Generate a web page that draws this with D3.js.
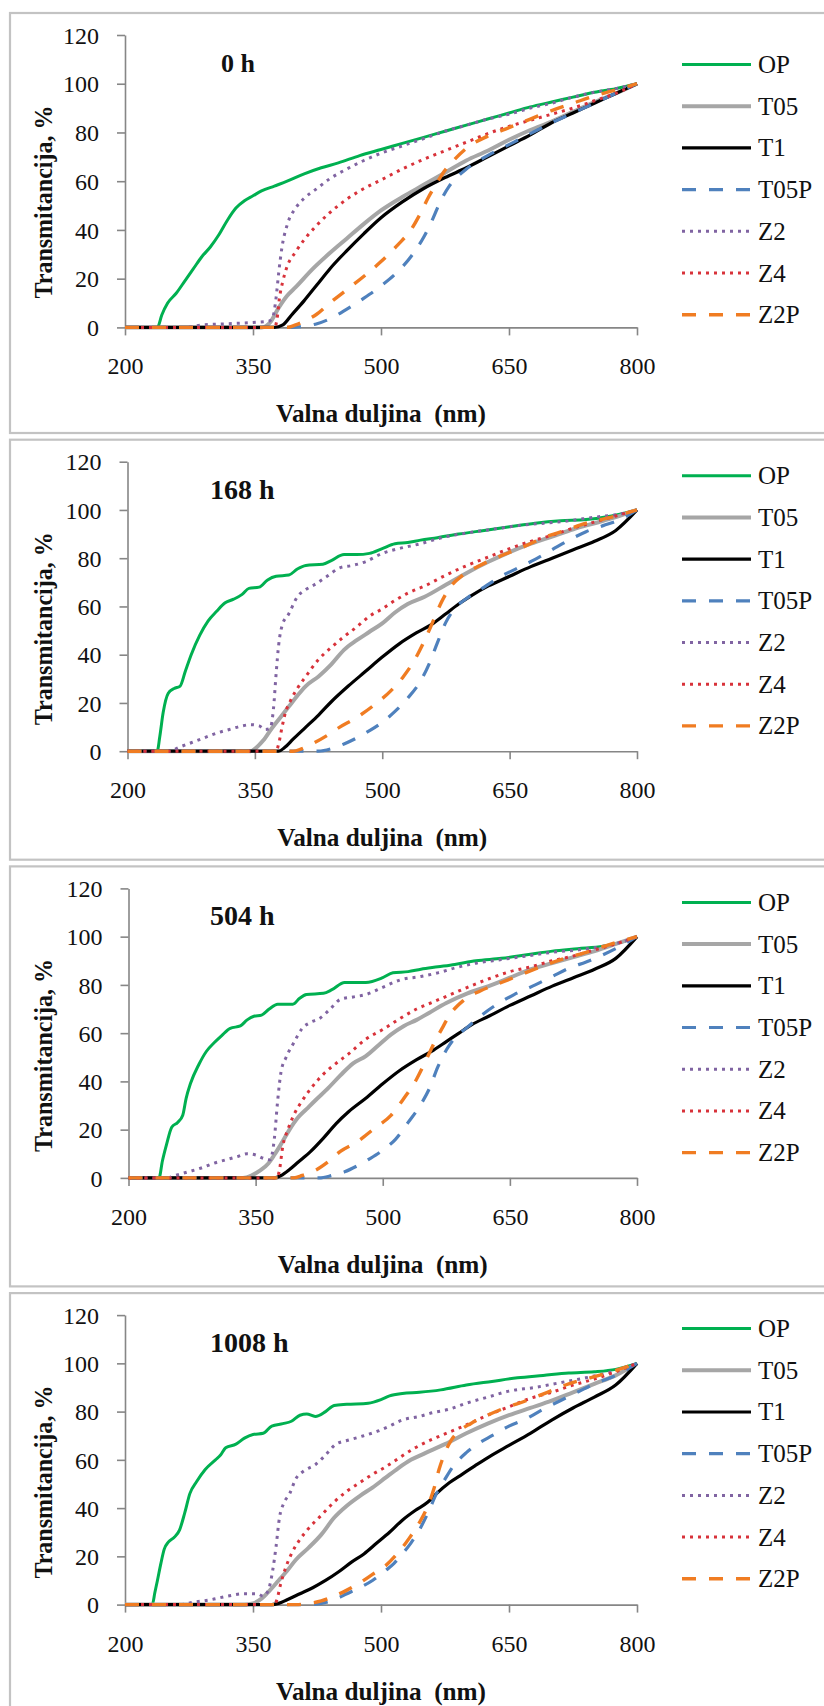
<!DOCTYPE html>
<html><head><meta charset="utf-8">
<script src="https://cdn.jsdelivr.net/npm/d3@7"></script>
<style>
body{margin:0;background:#fff}
svg{display:block}
text{font-family:"Liberation Serif","Times New Roman",serif;fill:#111}
</style>
</head><body>
<svg id="c" width="824" height="1706" font-family='"Liberation Serif","Times New Roman",serif'></svg>
<script>
// ---------- categories / ticks ----------
const seriesNames = ["OP","T05","T1","T05P","Z2","Z4","Z2P"];
const panelLabels = ["0 h","168 h","504 h","1008 h"];
const xTicks = [200,350,500,650,800];
const yTicks = [0,20,40,60,80,100,120];
const xTitle = "Valna duljina  (nm)";
const yTitle = "Transmitancija, %";

// ---------- 0 h ----------
const OP_0h = [[200,0],[238,0],[243,5],[250,10],[260,14],[270,19],[280,24],[290,29],[300,33],[310,38],[320,44],[330,49],[340,52],[350,54],[360,56],[375,58],[390,60],[410,63],[430,65.5],[450,67.5],[475,70.5],[500,73],[525,75.5],[550,78],[575,80.5],[600,83],[625,85.5],[650,88],[675,90.5],[700,92.5],[725,94.5],[750,96.5],[775,98],[800,100]];
const T05_0h = [[200,0],[360,0],[370,2],[380,8],[390,13],[400,16.5],[420,24],[440,30.5],[460,36.5],[480,42.5],[500,48],[525,53.5],[550,58.5],[575,63.5],[600,68.5],[625,72.5],[650,77],[675,81],[700,84.5],[725,88.5],[750,92.5],[775,96],[800,100]];
const T1_0h = [[200,0],[375,0],[385,1],[395,5],[410,11],[425,17.5],[440,24],[460,31.5],[480,38.5],[500,45],[525,51.5],[550,57],[575,61.5],[600,65.5],[625,70],[650,74.5],[675,79],[700,84],[725,88],[750,92],[775,96],[800,100]];
const T05P_0h = [[200,0],[395,0],[410,0.5],[425,1.5],[440,3.5],[460,7.5],[480,12],[500,17],[520,23],[535,29],[550,37],[560,44],[570,52],[580,58],[590,62],[600,65],[625,70.5],[650,75],[675,79.5],[700,84],[725,88],[750,92],[775,96],[800,100]];
const Z2_0h = [[200,0],[270,0],[290,1],[320,1.5],[350,2],[368,2.5],[373,4],[377,12],[380,22],[384,33],[390,42],[400,49],[410,53],[425,57],[440,61],[460,65],[480,68.5],[500,71.5],[525,74.5],[550,77.5],[575,80.5],[600,83],[625,85.5],[650,87.5],[675,90],[700,92],[725,94.5],[750,96.5],[775,98],[800,100]];
const Z4_0h = [[200,0],[375,0],[378,3],[381,12],[385,19],[390,25],[400,31],[410,36],[425,42],[450,50],[475,56],[500,60.5],[525,65],[550,69],[575,72.5],[600,76],[625,79.5],[650,82.5],[675,85],[700,87.5],[725,90],[750,93],[775,96],[800,100]];
const Z2P_0h = [[200,0],[390,0],[400,1],[410,2.5],[425,5.5],[440,10],[460,15.5],[480,21],[500,27],[520,34],[535,40],[545,46],[555,53],[565,59],[575,64.5],[585,68.5],[600,73.5],[625,78.5],[650,82],[675,85.5],[700,89],[725,92],[750,95],[775,97.5],[800,100]];

// ---------- 168 h ----------
const OP_168h = [[200,0],[235,0],[238,6],[242,16],[248,24],[255,26],[262,27],[268,33],[275,40],[285,48],[295,54],[305,58],[315,61.5],[325,63],[335,65],[343,67.5],[355,68],[365,71],[375,72.5],[390,73],[400,75.5],[410,77],[430,77.5],[440,79],[455,81.5],[470,81.5],[485,82],[500,84],[515,86],[530,86.5],[545,87.5],[565,88.5],[590,90],[620,91.5],[650,93],[680,94.5],[710,95.5],[740,96],[770,97.5],[800,100]];
const T05_168h = [[200,0],[345,0],[350,1],[360,4.5],[370,9.5],[380,14],[390,18.5],[400,23],[410,27],[425,31],[440,36],[455,42],[470,46],[485,49.5],[500,53],[515,57.5],[530,61],[550,64],[575,69],[600,74],[625,78.5],[650,82.5],[675,86],[700,89],[725,92],[750,94.5],[775,97],[800,100]];
const T1_168h = [[200,0],[378,0],[385,1.5],[395,5],[410,10],[425,15],[440,20.5],[460,27],[480,33],[500,39],[520,44.5],[540,49],[560,53],[575,57],[590,61],[605,64.5],[625,68.5],[650,72.5],[675,76.5],[700,80],[725,83.5],[750,87],[775,91.5],[800,100]];
const T05P_168h = [[200,0],[425,0],[440,1],[455,3],[470,5.5],[485,8.5],[500,12],[515,16.5],[530,22],[545,29],[555,36],[565,45],[575,53.5],[585,59],[600,63.5],[620,68],[640,72.5],[660,76],[680,79.5],[700,83.5],[720,87.5],[740,91],[760,93.5],[780,96],[800,100]];
const Z2_168h = [[200,0],[250,0],[260,1.5],[275,3.5],[290,5.5],[305,7.5],[320,9],[335,10.5],[345,11],[355,10.5],[362,9],[368,9.5],[372,18],[375,32],[378,44],[382,52],[390,57],[400,64],[410,67],[420,69],[435,72.5],[450,76],[465,77],[480,78.5],[500,82],[520,84],[545,86],[570,88.5],[600,90.5],[630,92],[660,93.5],[690,94.5],[720,95.5],[750,97],[775,98],[800,100]];
const Z4_168h = [[200,0],[375,0],[378,3],[382,10],[386,16],[392,21],[400,26],[410,31],[425,38],[440,43],[455,47.5],[470,51.5],[485,56],[500,59],[515,62.5],[530,65.5],[550,68.5],[575,73],[600,77],[625,80.5],[650,84],[675,87],[700,89.5],[725,92.5],[750,95],[775,97.5],[800,100]];
const Z2P_168h = [[200,0],[395,0],[405,1],[420,3.5],[435,6.5],[450,10],[470,14],[490,19],[510,25],[525,31],[540,39],[550,46],[560,54],[570,62],[580,68],[595,73],[615,77],[640,81],[665,84.5],[690,88.5],[715,91.5],[740,94.5],[770,97],[800,100]];

// ---------- 504 h ----------
const OP_504h = [[200,0],[236,0],[240,7],[245,14],[251,21],[258,23],[264,26],[268,33],[273,39],[283,47],[292,52.5],[301,56],[310,59],[320,62],[332,63],[340,65.5],[348,67],[357,67.5],[366,70],[376,72],[394,72],[402,74.5],[410,76],[430,76.5],[440,78],[455,81],[480,81],[500,83],[512,85],[530,85.5],[545,86.5],[565,87.5],[585,88.5],[610,90],[640,91],[670,92.5],[700,94],[730,95],[760,96],[780,97.5],[800,100]];
const T05_504h = [[200,0],[335,0],[345,1],[355,3],[365,6],[372,9.5],[380,14],[390,20],[400,25],[410,28.5],[420,32],[435,37],[450,42.5],[465,47.5],[480,50.5],[495,55],[510,59.5],[525,63],[540,65.5],[555,68.5],[575,72.5],[600,76.5],[625,79.5],[650,83],[675,86.5],[700,89],[725,91.5],[750,94],[775,97],[800,100]];
const T1_504h = [[200,0],[372,0],[380,1],[390,3.5],[400,6.5],[415,11],[430,16.5],[445,22.5],[460,27.5],[480,33],[500,39],[520,44.5],[540,49],[560,53],[575,56.5],[590,60],[605,63.5],[625,67],[650,71.5],[675,75.5],[700,79.5],[725,83],[750,86.5],[775,91],[800,100]];
const T05P_504h = [[200,0],[425,0],[440,1],[455,2.5],[470,5],[485,8],[500,11.5],[515,16],[530,23],[545,30.5],[555,37],[565,46],[575,53],[585,58],[600,62.5],[615,67],[635,72],[655,76],[680,80],[700,83.5],[720,87],[740,89.5],[760,92.5],[780,96],[800,100]];
const Z2_504h = [[200,0],[245,0],[255,1],[270,2.5],[285,4],[300,6],[315,7.5],[330,9],[340,10],[350,9.5],[360,8],[367,7.5],[372,16],[376,32],[380,44],[386,50],[395,56],[405,62],[415,64.5],[425,66],[438,70],[450,74],[465,75],[480,76],[500,79],[520,82],[545,83.5],[565,85],[585,87],[610,89],[640,90.5],[670,92],[700,93.5],[730,94.5],[760,96],[780,97.5],[800,100]];
const Z4_504h = [[200,0],[375,0],[378,3],[382,13],[388,20],[395,26],[405,32],[415,37],[430,43],[445,47.5],[460,51.5],[480,57.5],[500,61.5],[520,66],[540,70],[560,73],[580,76],[600,79],[625,82.5],[650,85.5],[675,87.5],[700,90],[725,92],[750,94.5],[775,97],[800,100]];
const Z2P_504h = [[200,0],[395,0],[405,1],[420,3],[435,6.5],[450,11],[470,15],[490,20.5],[510,26],[525,33],[540,41],[550,48],[560,55.5],[570,62],[580,68],[595,73.5],[615,77.5],[640,81],[665,84.5],[690,88],[715,91],[740,93.5],[770,97],[800,100]];

// ---------- 1008 h ----------
const OP_1008h = [[200,0],[232,0],[235,5],[238,10],[242,17],[246,23],[251,26],[258,28],[264,31],[270,38],[276,46],[284,51],[294,56],[306,60],[312,62],[318,65],[330,66.5],[340,69],[350,70.5],[362,71],[372,74],[385,75],[395,76],[405,78.5],[413,79],[423,78],[435,80],[445,82.5],[460,83],[485,83.5],[500,85],[510,86.5],[525,87.5],[545,88],[570,89],[600,91],[630,92.5],[660,94],[690,95],[720,96],[750,96.5],[775,97.5],[800,100]];
const T05_1008h = [[200,0],[340,0],[350,0.5],[360,2.5],[370,6],[380,10],[390,14],[400,18.5],[415,23.5],[430,29],[445,36],[460,41],[475,45],[490,48.5],[505,52.5],[520,56.5],[535,60],[550,62.5],[575,66.5],[600,71],[625,75],[650,78.5],[675,81.5],[700,84.5],[725,88],[750,91.5],[775,95],[800,100]];
const T1_1008h = [[200,0],[372,0],[380,0.5],[390,2],[405,4.5],[420,7],[435,10],[450,13.5],[465,17.5],[480,21],[495,25.5],[510,30],[525,35],[540,39],[555,42.5],[565,46],[580,50.5],[595,54],[610,57.5],[630,62],[650,66],[675,71],[700,76.5],[725,81.5],[750,86],[775,91],[800,100]];
const T05P_1008h = [[200,0],[415,0],[430,0.5],[445,2],[460,4.5],[475,7],[490,10],[505,14],[515,17],[525,21],[535,25.5],[545,31],[555,38],[565,46],[575,52],[585,57.5],[600,63],[615,67],[630,70],[650,74],[670,77],[690,81],[710,84.5],[730,88],[750,91.5],[775,95],[800,100]];
const Z2_1008h = [[200,0],[265,0],[280,1],[300,2],[320,3.5],[340,4.5],[355,4.5],[362,3.5],[368,6],[373,14],[377,24],[381,36],[386,42],[393,46],[400,52],[410,55.5],[423,58],[435,62],[447,66.5],[460,68],[475,69.5],[497,72],[510,74],[525,76.5],[545,78],[560,79.5],[580,81],[600,83.5],[625,86],[650,88.5],[680,90],[710,92],[740,94],[770,96.5],[800,100]];
const Z4_1008h = [[200,0],[375,0],[378,2],[382,8],[388,15],[395,21],[405,27],[415,31.5],[430,37],[445,42.5],[460,47],[475,50.5],[490,54],[505,57],[520,60.5],[540,65],[560,68.5],[580,71.5],[600,74.5],[625,78.5],[650,82],[675,85.5],[700,88],[725,91],[750,93.5],[775,96.5],[800,100]];
const Z2P_1008h = [[200,0],[400,0],[415,0.5],[430,1.5],[445,3.5],[460,6],[475,9],[490,12.5],[505,16],[520,21.5],[535,28.5],[545,34],[555,41],[562,48],[568,56],[575,63],[582,68],[592,72],[605,75],[625,78.5],[645,81.5],[670,84.5],[695,88],[720,91.5],[745,94],[770,96.5],[800,100]];

const panelData = [
  [OP_0h, T05_0h, T1_0h, T05P_0h, Z2_0h, Z4_0h, Z2P_0h],
  [OP_168h, T05_168h, T1_168h, T05P_168h, Z2_168h, Z4_168h, Z2P_168h],
  [OP_504h, T05_504h, T1_504h, T05P_504h, Z2_504h, Z4_504h, Z2P_504h],
  [OP_1008h, T05_1008h, T1_1008h, T05P_1008h, Z2_1008h, Z4_1008h, Z2P_1008h]
];

// ---------- styles ----------
const FONT = '"Liberation Serif","Times New Roman",serif';
const styles = {
  OP:   {color:"#00b050", width:3,   dash:null},
  T05:  {color:"#a6a6a6", width:4,   dash:null},
  T1:   {color:"#000000", width:3.2, dash:null},
  T05P: {color:"#4f81bd", width:3.2, dash:"14,13"},
  Z2:   {color:"#8064a2", width:3,   dash:"3,5"},
  Z4:   {color:"#d8323a", width:3,   dash:"3,5"},
  Z2P:  {color:"#f07c22", width:3.4, dash:"14,13"}
};

// ---------- layout ----------
const PANEL_STEP = 426.7;
const axisLeftX = [125, 127.5, 128.5, 125];
const axisRightX = 637;
const plotTop = 35;
const plotBottom = [327.4, 324.5, 324.5, 324.5];
const titleX = [221, 210, 210, 210];
const titleSize = [26, 28, 28, 28];
const legendTop = [64.5, 49, 49, 48.5];
const legendStep = 41.7;

const svg = d3.select("#c");

panelData.forEach((series, k) => {
  const g = svg.append("g").attr("transform", `translate(0,${k*PANEL_STEP})`);
  g.append("rect").attr("x",10).attr("y",13).attr("width",840).attr("height",420)
    .attr("fill","#fff").attr("stroke","#c3c3c3").attr("stroke-width",2.2);

  const x = d3.scaleLinear().domain([200,800]).range([axisLeftX[k], axisRightX]);
  const y = d3.scaleLinear().domain([0,120]).range([plotBottom[k], plotTop]);

  // axes
  const ya = g.append("g").attr("transform",`translate(${axisLeftX[k]},0)`)
    .call(d3.axisLeft(y).tickValues(yTicks).tickSize(8).tickSizeOuter(0).tickPadding(18));
  const xa = g.append("g").attr("transform",`translate(0,${plotBottom[k]})`)
    .call(d3.axisBottom(x).tickValues(xTicks).tickSize(8).tickSizeOuter(0).tickPadding(22));
  [ya, xa].forEach(a => {
    a.attr("font-family", FONT).attr("font-size", 24);
    a.select(".domain").attr("stroke","#868686").attr("stroke-width",1.6);
    a.selectAll(".tick line").attr("stroke","#868686").attr("stroke-width",1.6);
    a.selectAll(".tick text").attr("font-size",24).attr("fill","#111").attr("font-family", FONT);
  });
  ya.selectAll(".tick text").attr("dy","0.34em");

  // lines
  const line = d3.line().x(d=>x(d[0])).y(d=>y(d[1])).curve(d3.curveMonotoneX);
  series.forEach((pts, i) => {
    const s = styles[seriesNames[i]];
    g.append("path").datum(pts).attr("d", line)
      .attr("fill","none").attr("stroke", s.color).attr("stroke-width", s.width)
      .attr("stroke-linejoin","round")
      .attr("stroke-dasharray", s.dash);
  });

  // panel title
  g.append("text").attr("x", titleX[k]).attr("y", 72).attr("font-size", titleSize[k])
    .attr("font-family", FONT).attr("font-weight","bold").text(panelLabels[k]);

  // legend
  seriesNames.forEach((name, i) => {
    const s = styles[name];
    const ly = legendTop[k] + i*legendStep;
    g.append("line").attr("x1",682).attr("x2",751).attr("y1",ly).attr("y2",ly)
      .attr("stroke",s.color).attr("stroke-width",s.width).attr("stroke-dasharray", s.dash);
    g.append("text").attr("x",758).attr("y",ly+8.5).attr("font-size",25)
      .attr("font-family", FONT).text(name);
  });

  // axis titles
  g.append("text").attr("x", (axisLeftX[k]+axisRightX)/2).attr("y", plotBottom[k]+95)
    .attr("text-anchor","middle").attr("font-size",25).attr("font-weight","bold")
    .attr("font-family", FONT)
    .attr("textLength",210).attr("lengthAdjust","spacingAndGlyphs")
    .style("white-space","pre").text(xTitle);
  g.append("text").attr("transform","translate(52,202) rotate(-90)")
    .attr("text-anchor","middle").attr("font-size",26).attr("font-weight","bold")
    .attr("font-family", FONT)
    .attr("textLength",193).attr("lengthAdjust","spacingAndGlyphs")
    .text(yTitle);
});
</script>
</body></html>
